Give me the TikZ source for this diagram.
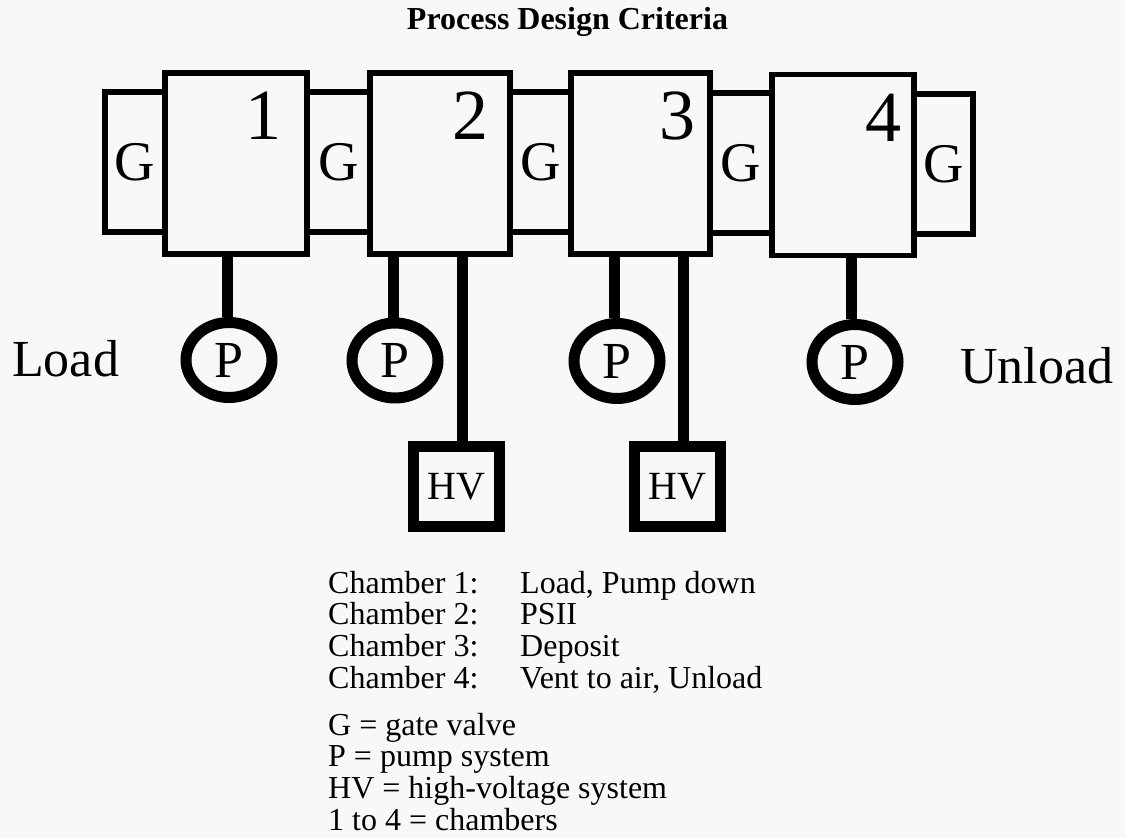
\documentclass[tikz,border=0pt]{standalone}
\usepackage{fontspec}
\setmainfont{Liberation Serif}
\usetikzlibrary{shapes.geometric}
\definecolor{bg}{RGB}{248,248,248}
\begin{document}
\begin{tikzpicture}[x=1pt,y=-1pt,
  thinbox/.style={draw, rectangle, line width=5.5pt, inner sep=0pt},
  gatebox/.style={thinbox, minimum height=140pt, font=\fontsize{56}{56}\selectfont},
  chamber/.style={thinbox, minimum height=181pt},
  pump/.style={draw, ellipse, line width=11pt, minimum width=86pt, minimum height=75pt, inner sep=0pt, font=\fontsize{52}{52}\selectfont},
  hvbox/.style={draw, rectangle, line width=11pt, minimum width=86pt, minimum height=80pt, inner sep=0pt, font=\fontsize{40}{40}\selectfont},
  stem/.style={line width=11pt},
  num/.style={font=\fontsize{72}{72}\selectfont, inner sep=0pt},
  side/.style={font=\fontsize{52}{52}\selectfont, inner sep=0pt, anchor=base west},
  legend/.style={font=\fontsize{32}{31.7}\selectfont, inner sep=0pt, anchor=base west}]
\useasboundingbox (0,0) rectangle (1125,838);
\fill[bg] (0,0) rectangle (1125,838);

\node[font=\fontsize{32}{36}\selectfont\bfseries, anchor=base, inner sep=0pt] (title) at (567.5,29) {Process Design Criteria};

% gate valves
\node[gatebox, minimum width=60pt] (g1) at (135,162) {G};
\node[gatebox, minimum width=63pt] (g2) at (338.5,162) {G};
\node[gatebox, minimum width=61pt] (g3) at (540.5,162) {G};
\node[gatebox, minimum width=62pt] (g4) at (741,163) {G};
\node[gatebox, minimum width=59pt] (g5) at (943.5,164) {G};

% chambers
\node[chamber, minimum width=142pt] (c1) at (236,163.5) {};
\node[chamber, minimum width=140pt] (c2) at (440,163.5) {};
\node[chamber, minimum width=139pt] (c3) at (640.5,163.5) {};
\node[chamber, minimum width=142pt] (c4) at (843,165) {};

\node[num] (n1) at (263,116) {1};
\node[num] (n2) at (470,116) {2};
\node[num] (n3) at (677,116) {3};
\node[num] (n4) at (883,118) {4};

% pumps
\node[pump] (p1) at (229,360) {P};
\node[pump] (p2) at (395,360.5) {P};
\node[pump] (p3) at (617,361) {P};
\node[pump] (p4) at (855,362) {P};

% high voltage
\node[hvbox] (hv1) at (456.5,486.5) {HV};
\node[hvbox] (hv2) at (677.5,486.5) {HV};

\draw[stem] ([xshift=-2pt]p1.north) -- ([xshift=-2pt]p1.north |- c1.south);
\draw[stem] ([xshift=-2pt]p2.north) -- ([xshift=-2pt]p2.north |- c2.south);
\draw[stem] ([xshift=-3pt]p3.north) -- ([xshift=-3pt]p3.north |- c3.south);
\draw[stem] ([xshift=-4pt]p4.north) -- ([xshift=-4pt]p4.north |- c4.south);
\draw[stem] ([xshift=5.5pt]hv1.north) -- ([xshift=5.5pt]hv1.north |- c2.south);
\draw[stem] ([xshift=6pt]hv2.north) -- ([xshift=6pt]hv2.north |- c3.south);

\node[side] (load) at (12,376) {Load};
\node[side] (unload) at (960,383) {Unload};

\node[legend] (leg1) at (328,593) {\begin{tabular}[t]{@{}p{192pt}@{}l@{}}
Chamber 1: & Load, Pump down\\
Chamber 2: & PSII\\
Chamber 3: & Deposit\\
Chamber 4: & Vent to air, Unload
\end{tabular}};
\node[legend] (leg2) at (328,735) {\begin{tabular}[t]{@{}l@{}}
G = gate valve\\
P = pump system\\
HV = high-voltage system\\
1 to 4 = chambers
\end{tabular}};
\end{tikzpicture}
\end{document}
